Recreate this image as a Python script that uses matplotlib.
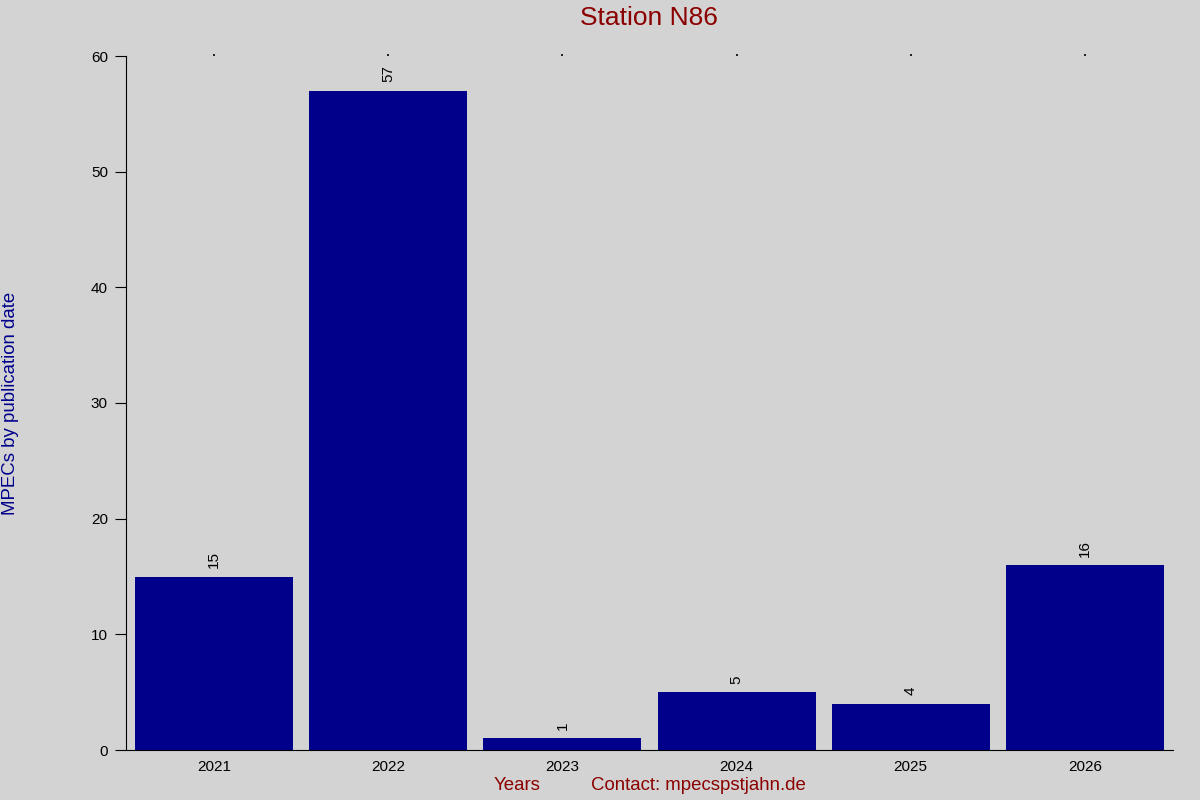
import matplotlib.pyplot as plt

plt.rcParams['font.family'] = ['Liberation Sans', 'DejaVu Sans']

years = ["2021", "2022", "2023", "2024", "2025", "2026"]
counts = [15, 57, 1, 5, 4, 16]

bg = "#d3d3d3"
fig = plt.figure(figsize=(12, 8), dpi=100, facecolor=bg)
ax = fig.add_axes([0.105, 0.0625, 0.8725, 0.8675], facecolor=bg)

x = range(len(years))
bars = ax.bar(x, counts, width=0.908, color="#00008b")
for xi, v in zip(x, counts):
    ax.annotate(str(v), (xi, v), xytext=(0, 6), textcoords="offset points",
                rotation=90, ha="center", va="bottom", fontsize=11)

ax.set_xlim(-0.506, len(years) - 0.494)
ax.set_ylim(0, 60)
ax.set_yticks(range(0, 61, 10))
ax.set_xticks(list(x))
ax.set_xticklabels(years)

for s in ("top", "right"):
    ax.spines[s].set_visible(False)
ax.tick_params(axis="y", direction="out", length=8, pad=5, labelsize=11)
ax.tick_params(axis="x", bottom=False, top=True, length=1.5, width=1.2,
               pad=6, labelsize=11, labelbottom=True)

fig.text(0.5408, 0.977, "Station N86", ha="center", va="center",
         fontsize=19, color="#8b0000")
fig.text(0.009, 0.496, "MPECs by publication date", rotation=90,
         ha="center", va="center", fontsize=13.4, color="#00008b")
fig.text(0.431, 0.0175, "Years", ha="center", va="center",
         fontsize=13.4, color="#8b0000")
fig.text(0.5817, 0.0175, "Contact: mpecspstjahn.de", ha="center", va="center",
         fontsize=13.4, color="#8b0000")

fig.savefig("out.png", dpi=100, facecolor=bg)
